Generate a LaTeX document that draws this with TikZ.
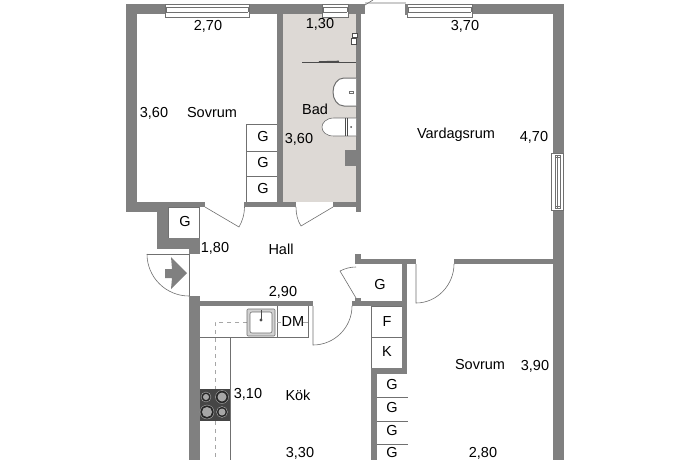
\documentclass[tikz,border=0pt]{standalone}
\usepackage{fontspec}
\setmainfont{Liberation Sans}
\definecolor{wallc}{HTML}{808080}
\definecolor{floorc}{HTML}{DDD9D5}
\definecolor{linec}{HTML}{707070}
\definecolor{stovec}{HTML}{454545}
\tikzset{
 wall/.style={fill=wallc,draw=none},
 thin line/.style={draw=linec,line width=0.6pt},
 lbl/.style={font=\fontsize{14.5pt}{15pt}\selectfont,text=black,inner sep=0pt},
 fixture/.style={draw=linec,line width=0.6pt,fill=white},
}
\begin{document}
\begin{tikzpicture}[x=1pt,y=-1pt]
\useasboundingbox[fill=white] (0,0) rectangle (690,460);
% floor
\fill[floorc] (283,14) rectangle (356,202);
% closets
\foreach \a/\b/\c/\d in {246/124/277/151,246/151/277/176,246/176/277/202,168/207/199/238,371/306/402/337,371/337/402/368}
  \draw[thin line] (\a,\b) rectangle (\c,\d);
\foreach \y in {397,421,444}
  \draw[thin line] (377,\y) -- (408,\y);
% walls
\fill[wall] (126,4) rectangle (165,14);
\fill[wall] (249,4) rectangle (322,14);
\fill[wall] (348,4) rectangle (365,14);
\fill[wall] (472,4) rectangle (564,14);
\fill[wall] (126,4) rectangle (137,212);
\fill[wall] (126,202) rectangle (205,207);
\fill[wall] (126,207) rectangle (168,212);
\fill[wall] (157,207) rectangle (168,249);
\fill[wall] (157,238) rectangle (200,249);
\fill[wall] (189,238) rectangle (200,254);
\fill[wall] (244,202) rectangle (283,207);
\fill[wall] (277,14) rectangle (283,207);
\fill[wall] (283,202) rectangle (296,207);
\fill[wall] (333,202) rectangle (361,207);
\fill[wall] (356,14) rectangle (361,212);
\fill[wall] (345,150) rectangle (356,166);
\fill[wall] (553,4) rectangle (564,153);
\fill[wall] (553,210) rectangle (564,460);
\fill[wall] (454,259) rectangle (553,264);
\fill[wall] (355,259) rectangle (416,264);
\fill[wall] (355,254) rectangle (361,264);
\fill[wall] (402,264) rectangle (407,374);
\fill[wall] (371,368) rectangle (407,374);
\fill[wall] (371,368) rectangle (377,460);
\fill[wall] (189,296) rectangle (200,460);
\fill[wall] (200,301) rectangle (313,306);
\fill[wall] (352,301) rectangle (407,306);
\fill[wall] (355,298) rectangle (361,301);
% windows
\foreach \a/\b in {165/249,322/348,407/472}{
  \draw[fixture] (\a,4) rectangle (\b,17);
  \draw[thin line] (\a+1,7) -- (\b-1,7) (\a+1,12) -- (\b-1,12);
  \draw[thin line] (\a+1,7) -- (\a+1,12) (\b-1,7) -- (\b-1,12);
}
\draw[fixture] (551,153) rectangle (563,210);
\draw[thin line] (555,155) rectangle (560,208);
\draw[thin line] (557.5,155) -- (557.5,208);
\draw[thin line] (555,157) -- (560,157) (555,206) -- (560,206);
% balcony door
\fill[gray!40] (365,2.5) rectangle (406,4.5);
\draw[thin line] (365,5) -- (373,0);
\fill[wall] (405,4) rectangle (408,15);
% doors
\draw[thin line] (205,207) -- (239,227) .. controls (242.5,221) and (244.5,214) .. (244.5,207);
\draw[thin line] (333,207) -- (301,226) .. controls (297.5,220.5) and (296,214) .. (296,207);
\draw[thin line] (147,254) -- (189,254) -- (189,296);
\draw[thin line] (147,254) .. controls (147,277.2) and (165.8,296) .. (189,296);
\draw[thin line] (356,298) -- (340,271) .. controls (345,268.5) and (350,267) .. (356,267);
\draw[thin line] (416,264) -- (416,303) .. controls (437,303) and (454,285) .. (454,264);
\draw[thin line] (313,306) -- (313,345) .. controls (334.5,345) and (352,327.5) .. (352,306);
% entrance arrow
\fill[wallc] (165,269) -- (172,269) -- (171,257) -- (187,273) -- (171,289) -- (172,278) -- (165,278) -- cycle;
% kitchen
\draw[thin line] (200,337) -- (308,337) -- (308,306);
\draw[thin line] (230,337) -- (230,460);
\draw[thin line] (277,306) -- (277,337);
\draw[draw=gray!70,line width=0.7pt,dash pattern=on 4pt off 4pt] (247,322) -- (215,322) -- (215,389);
\draw[draw=gray!70,line width=0.7pt,dash pattern=on 4pt off 4pt] (215,421) -- (215,460);
\draw[draw=gray!70,line width=0.7pt] (277,322) -- (281,322) (303,322) -- (308,322);
\draw[line width=.6pt,draw=linec,fill=gray!35,rounded corners=1pt] (247,309) rectangle (275,336);
\draw[line width=.6pt,draw=linec,fill=white,rounded corners=2pt] (250,312) rectangle (272,333);
\draw[line width=.8pt,draw=black!70] (261,310) -- (261,320);
\fill[black!70] (261,320) circle (1.6);
% stove
\fill[stovec] (200,389) rectangle (230,421);
\foreach \x/\y/\r/\s in {206/397/5/3,222/397/6.5/4.5,207/412/7/5,222/412/5.5/3.5}{
  \draw[gray!60,line width=.4pt,fill=black!85] (\x,\y) circle (\r);
  \fill[gray!70] (\x,\y) circle (\s);
}
% bathroom
\draw[draw=linec,line width=1pt,fill=white] (356,78) -- (344,78) .. controls (337,78) and (333,85) .. (333,92) .. controls (333,99) and (337,106) .. (344,106) -- (356,106);
\draw[thin line] (349,91.5) rectangle (353,93.5);
\draw[fixture] (356,118) -- (334,118) .. controls (326,118) and (322,123) .. (322,127) .. controls (322,132) and (326,136) .. (334,136) -- (356,136);
\draw[draw=black!70,line width=.6pt] (345.5,118) -- (345.5,136) (347.5,118) -- (347.5,136);
\fill[black!70] (351,127) circle (1);
\draw[draw=black!70,line width=.8pt] (302,62) -- (356,62);
\draw[draw=black!70,line width=1.6pt] (319,62) -- (339,61.5);
\draw[draw=black!70,line width=.8pt,fill=white] (352,33) rectangle (357,37);
\draw[draw=black!70,line width=.8pt,fill=white] (351,38) rectangle (356,44);
% labels
\node[lbl] (l1) at (208,26) {2,70};
\node[lbl] (l2) at (320,24) {1,30};
\node[lbl] (l3) at (465,26) {3,70};
\node[lbl] (l4) at (154,113) {3,60};
\node[lbl] (l5) at (212,113) {Sovrum};
\node[lbl] (l6) at (315,109) {Bad};
\node[lbl] (l7) at (299,139) {3,60};
\node[lbl] (l8) at (456,135) {Vardagsrum};
\node[lbl] (l9) at (534,137) {4,70};
\node[lbl] (l10) at (215,248) {1,80};
\node[lbl] (l11) at (281,249) {Hall};
\node[lbl] (l12) at (283,292) {2,90};
\node[lbl] (l13) at (293,322) {DM};
\node[lbl] (l14) at (248,394) {3,10};
\node[lbl] (l15) at (298,395) {Kök};
\node[lbl] (l16) at (300,453) {3,30};
\node[lbl] (l17) at (480,365) {Sovrum};
\node[lbl] (l18) at (535,366) {3,90};
\node[lbl] (l19) at (483,453) {2,80};
\node[lbl] (g1) at (263,137) {G};
\node[lbl] (g2) at (263,163) {G};
\node[lbl] (g3) at (263,189) {G};
\node[lbl] (g4) at (185,222) {G};
\node[lbl] (g5) at (380,285) {G};
\node[lbl] (f) at (387,322) {F};
\node[lbl] (k) at (387,352) {K};
\node[lbl] (g6) at (392,385) {G};
\node[lbl] (g7) at (392,408) {G};
\node[lbl] (g8) at (392,431) {G};
\node[lbl] (g9) at (392,453) {G};
\end{tikzpicture}
\end{document}
